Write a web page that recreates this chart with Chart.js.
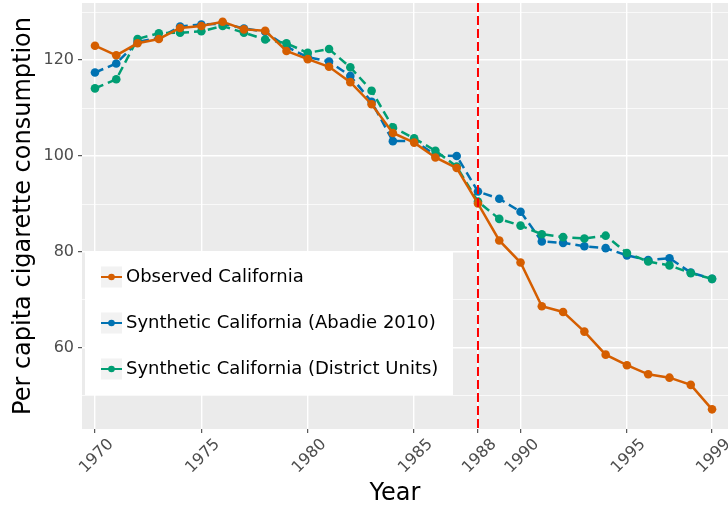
<!DOCTYPE html>
<html>
<head>
<meta charset="utf-8">
<script src="https://cdn.jsdelivr.net/npm/chart.js@4.4.1/dist/chart.umd.min.js"></script>
<style>
  html, body { margin: 0; padding: 0; background: #ffffff; }
  #wrap { width: 728px; height: 508px; position: relative; }
</style>
</head>
<body>
<div id="wrap"><canvas id="cigChart"></canvas></div>
<script>
const years = [1970, 1971, 1972, 1973, 1974, 1975, 1976, 1977, 1978, 1979,
               1980, 1981, 1982, 1983, 1984, 1985, 1986, 1987, 1988, 1989,
               1990, 1991, 1992, 1993, 1994, 1995, 1996, 1997, 1998, 1999];

const observedCA = [123.0, 121.0, 123.5, 124.4, 126.7, 127.1, 128.0, 126.4, 126.1, 121.9,
                    120.2, 118.6, 115.4, 110.8, 104.8, 102.8, 99.7, 97.5, 90.1, 82.4,
                    77.8, 68.7, 67.5, 63.4, 58.6, 56.4, 54.5, 53.8, 52.3, 47.2];

const synthAbadie = [117.4, 119.3, 123.8, 124.6, 127.0, 127.4, 127.6, 126.6, 125.9, 122.8,
                     120.6, 119.7, 116.7, 111.3, 103.1, 103.2, 100.2, 100.0, 92.6, 91.1,
                     88.4, 82.2, 81.9, 81.2, 80.8, 79.3, 78.3, 78.7, 75.7, 74.4];

const synthDistrict = [114.1, 116.0, 124.4, 125.6, 125.7, 126.0, 127.1, 125.7, 124.3, 123.5,
                       121.5, 122.3, 118.5, 113.6, 106.0, 103.7, 101.1, 97.8, 90.5, 86.9,
                       85.5, 83.7, 83.1, 82.8, 83.4, 79.8, 78.0, 77.2, 75.6, 74.4];

const xBreaks = [1970, 1975, 1980, 1985, 1988, 1990, 1995, 1999];
const yGridValues = [50, 60, 70, 80, 90, 100, 110, 120, 130];
const yLabelled = [60, 80, 100, 120];
const treatmentYear = 1988;

const seriesLabels = ['Observed California', 'Synthetic California (Abadie 2010)', 'Synthetic California (District Units)'];
const seriesColors = ['#D55E00', '#0072B2', '#009E73'];

const FONT = 'DejaVu Sans';

function toPoints(vals) {
    return years.map((y, i) => ({ x: y, y: vals[i] }));
}

function lineSet(idx, vals, dashed, order) {
    return {
        label: seriesLabels[idx],
        data: toPoints(vals),
        borderColor: seriesColors[idx],
        backgroundColor: seriesColors[idx],
        pointBackgroundColor: seriesColors[idx],
        pointBorderWidth: 0,
        pointRadius: 4.3,
        borderWidth: 2.5,
        borderDash: dashed ? [9, 5] : [],
        tension: 0,
        clip: false,
        order: order
    };
}

function zeroPad(s) {
    s.paddingLeft = 0; s.paddingRight = 0; s.paddingTop = 0; s.paddingBottom = 0;
}

// grey panel, red vline, legend, x title
const ggPlugin = {
    id: 'ggLook',
    beforeDraw(chart) {
        const { ctx, chartArea: a } = chart;
        ctx.save();
        ctx.fillStyle = '#EBEBEB';
        ctx.fillRect(a.left, a.top, a.right - a.left, a.bottom - a.top);
        ctx.restore();
    },
    afterDatasetsDraw(chart) {
        const { ctx, chartArea: a, scales } = chart;
        const px = scales.x.getPixelForValue(treatmentYear);
        ctx.save();
        ctx.strokeStyle = '#FF0000';
        ctx.lineWidth = 2;
        ctx.setLineDash([9, 4]);
        ctx.beginPath();
        ctx.moveTo(px, a.top);
        ctx.lineTo(px, a.bottom);
        ctx.stroke();
        ctx.restore();
    },
    afterDraw(chart) {
        const ctx = chart.ctx;
        ctx.save();
        // legend box
        ctx.fillStyle = '#FFFFFF';
        ctx.fillRect(85, 251, 368, 144);
        const rows = [277, 323, 369];
        ctx.font = '18px "' + FONT + '"';
        ctx.textBaseline = 'middle';
        ctx.textAlign = 'left';
        rows.forEach((cy, i) => {
            ctx.fillStyle = '#F2F2F2';
            ctx.fillRect(101, cy - 10.5, 21, 21);
            ctx.strokeStyle = seriesColors[i];
            ctx.lineWidth = 2;
            ctx.beginPath();
            ctx.moveTo(101, cy);
            ctx.lineTo(122, cy);
            ctx.stroke();
            ctx.fillStyle = seriesColors[i];
            ctx.beginPath();
            ctx.arc(111.5, cy, 3.3, 0, Math.PI * 2);
            ctx.fill();
            ctx.fillStyle = '#000000';
            ctx.fillText(seriesLabels[i], 126, cy);
        });
        // x axis title
        ctx.font = '24px "' + FONT + '"';
        ctx.textAlign = 'center';
        ctx.fillStyle = '#000000';
        ctx.fillText('Year', 395, 494);
        ctx.restore();
    }
};

const cfg = {
    type: 'line',
    data: {
        datasets: [
            lineSet(0, observedCA, false, 1),
            lineSet(1, synthAbadie, true, 3),
            lineSet(2, synthDistrict, true, 2)
        ]
    },
    options: {
        responsive: true,
        maintainAspectRatio: false,
        animation: false,
        layout: { autoPadding: false, padding: { top: 3, right: 0, left: 0, bottom: 0 } },
        plugins: {
            legend: { display: false },
            tooltip: { enabled: false }
        },
        scales: {
            x: {
                type: 'linear',
                min: 1969.39,
                max: 1999.75,
                afterBuildTicks: s => { s.ticks = xBreaks.map(v => ({ value: v })); },
                afterFit: s => { s.height = 79; zeroPad(s); },
                border: { display: false },
                grid: {
                    color: '#FFFFFF',
                    lineWidth: 1.4,
                    tickLength: 4,
                    tickColor: '#333333',
                    tickWidth: 1
                },
                ticks: {
                    autoSkip: false,
                    minRotation: 45,
                    maxRotation: 45,
                    labelOffset: 16,
                    padding: 2,
                    color: '#4D4D4D',
                    font: { family: FONT, size: 16 },
                    callback: v => String(v)
                }
            },
            y: {
                min: 43.1,
                max: 131.9,
                afterBuildTicks: s => { s.ticks = yGridValues.map(v => ({ value: v })); },
                afterFit: s => { s.width = 82; zeroPad(s); },
                border: { display: false },
                grid: {
                    color: '#FFFFFF',
                    lineWidth: c => (c.tick && yLabelled.includes(c.tick.value)) ? 1.4 : 0.7,
                    tickLength: 4,
                    tickColor: c => (c.tick && yLabelled.includes(c.tick.value)) ? '#333333' : 'rgba(0,0,0,0)',
                    tickWidth: 1
                },
                ticks: {
                    autoSkip: false,
                    padding: 4,
                    color: '#4D4D4D',
                    font: { family: FONT, size: 16 },
                    callback: v => yLabelled.includes(v) ? String(v) : ''
                },
                title: {
                    display: true,
                    text: 'Per capita cigarette consumption',
                    color: '#000000',
                    font: { family: FONT, size: 24 },
                    padding: { top: 9, bottom: 0 }
                }
            }
        }
    },
    plugins: [ggPlugin]
};

const cigChart = new Chart(document.getElementById('cigChart').getContext('2d'), cfg);
</script>
</body>
</html>
